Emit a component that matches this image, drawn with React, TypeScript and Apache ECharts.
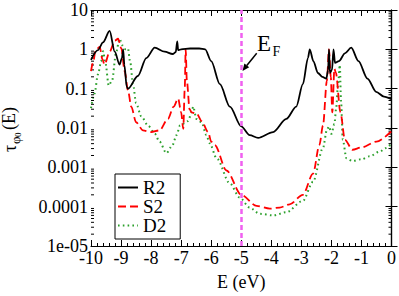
import React, { useEffect, useRef } from "react";
import * as echarts from "echarts";

const r2X = [-10, -9.77, -9.6, -9.38, -9.21, -9.05, -8.97, -8.93, -8.89, -8.81, -8.77, -8.44, -8.16, -7.88, -7.55, -7.28, -7.18, -7.13, -7.1, -7.0, -6.7, -6.4, -6.2, -6.0, -5.71, -5.38, -5.0, -4.72, -4.44, -3.94, -3.5, -3.17, -2.95, -2.78, -2.72, -2.6, -2.45, -2.3, -2.17, -2.11, -2.08, -2.05, -1.98, -1.93, -1.88, -1.75, -1.55, -1.34, -1.1, -0.8, -0.51, -0.25, 0];
const r2Y = [0.54, 0.95, 1.51, 2.95, 0.87, 0.41, 0.6, 1.0, 0.4, 0.11, 0.1, 0.21, 0.6, 1.1, 0.87, 0.76, 0.85, 1.58, 0.95, 1.0, 1.05, 1.05, 1.0, 0.5, 0.13, 0.035, 0.011, 0.0066, 0.0056, 0.0079, 0.017, 0.035, 0.13, 0.6, 1.0, 0.5, 0.25, 0.2, 0.18, 0.3, 1.0, 0.25, 0.3, 1.0, 0.45, 0.5, 0.79, 1.1, 0.5, 0.18, 0.083, 0.063, 0.054];

const s2X = [-10, -9.92, -9.85, -9.71, -9.62, -9.55, -9.38, -9.21, -9.1, -8.99, -8.88, -8.77, -8.66, -8.5, -8.27, -8.0, -7.72, -7.44, -7.25, -7.1, -7.0, -6.93, -6.88, -6.85, -6.81, -6.72, -6.65, -6.48, -6.32, -6.1, -6.0, -5.88, -5.49, -5.0, -4.49, -4.05, -3.72, -3.39, -2.95, -2.61, -2.4, -2.28, -2.15, -2.08, -2.02, -1.97, -1.9, -1.85, -1.7, -1.55, -1.3, -1.0, -0.5, 0];
const s2Y = [0.28, 0.5, 0.95, 1.15, 0.56, 0.41, 0.87, 1.66, 1.86, 1.05, 0.28, 0.091, 0.035, 0.014, 0.0087, 0.0079, 0.0087, 0.017, 0.035, 0.056, 0.025, 0.0095, 0.1, 1.0, 0.16, 0.03, 0.025, 0.023, 0.015, 0.0079, 0.0045, 0.0037, 0.00083, 0.0002, 0.000105, 0.000089, 0.000095, 0.000115, 0.0002, 0.00069, 0.0037, 0.0115, 0.16, 1.0, 0.2, 0.025, 0.32, 0.25, 0.025, 0.005, 0.0028, 0.0032, 0.0045, 0.0083];

const d2X = [-10, -9.88, -9.77, -9.66, -9.6, -9.52, -9.41, -9.3, -9.16, -9.05, -8.95, -8.85, -8.77, -8.7, -8.6, -8.5, -8.33, -8.1, -7.88, -7.72, -7.49, -7.3, -7.15, -7.04, -6.77, -6.65, -6.6, -6.49, -6.32, -6.16, -6.05, -5.82, -5.38, -5.05, -4.72, -4.39, -3.94, -3.5, -2.95, -2.61, -2.28, -2.15, -2.08, -2.0, -1.9, -1.84, -1.78, -1.72, -1.68, -1.62, -1.5, -1.3, -1.0, -0.73, -0.4, -0.18, 0];
const d2Y = [0.032, 0.076, 0.23, 0.5, 0.9, 0.45, 0.12, 0.16, 0.87, 1.86, 1.26, 1.0, 1.05, 0.5, 0.13, 0.043, 0.02, 0.0115, 0.0072, 0.0045, 0.0023, 0.0035, 0.0066, 0.0115, 0.015, 0.025, 0.035, 0.017, 0.014, 0.0066, 0.0041, 0.0017, 0.00039, 0.00017, 0.000095, 0.000066, 0.00006, 0.000072, 0.00014, 0.00043, 0.0031, 0.0089, 0.011, 0.0071, 0.0126, 0.032, 0.126, 0.4, 0.05, 0.005, 0.0017, 0.00145, 0.0016, 0.0019, 0.0025, 0.0031, 0.0041];

const seriesNames = ["R2", "S2", "D2"];
const yTickLabels = ["1e-05", "0.0001", "0.001", "0.01", "0.1", "1", "10"];
const fermiEnergy = -5;
const xMin = -10;
const xMax = 0;
const yMin = 1e-5;
const yMax = 10;

const FONT = "'Liberation Serif', 'DejaVu Serif', serif";

function zip(xs: number[], ys: number[]) {
  return xs.map((x, i) => [x, ys[i]]);
}

export default function App() {
  const ref = useRef<HTMLDivElement>(null);
  useEffect(() => {
    document.body.style.margin = "0";
    if (!ref.current) return;
    const chart = echarts.init(ref.current, undefined, { renderer: "svg" });

    const minorVals: number[][] = [];
    for (let k = -5; k < 1; k++) {
      for (let m = 2; m <= 9; m++) minorVals.push([xMin, m * Math.pow(10, k)]);
    }

    const axisLine = { show: true, lineStyle: { color: "#000", width: 1.2 } };
    const tickStyle = { color: "#000", width: 1 };

    const tip = [242.5, 71];
    const base = [246.8, 65.5];
    const mid = (t: string, size: number) => ({
      text: t,
      font: `${size}px ${FONT}`,
      fill: "#000",
      textVerticalAlign: "middle",
      verticalAlign: "middle",
    });

    const option: any = {
      animation: false,
      backgroundColor: "#fff",
      grid: { left: 91, right: 7, top: 10, bottom: 41, containLabel: false },
      legend: {
        data: seriesNames,
        orient: "vertical",
        left: 115,
        top: 174,
        backgroundColor: "#fff",
        borderColor: "#000",
        borderWidth: 1,
        borderRadius: 0,
        padding: [4, 14, 4, 2],
        itemGap: 0,
        itemWidth: 20,
        itemHeight: 10,
        itemStyle: { opacity: 0 },
        textStyle: { fontFamily: FONT, fontSize: 19, color: "#000", lineHeight: 19 },
      },
      xAxis: [
        {
          type: "value",
          min: xMin,
          max: xMax,
          interval: 1,
          position: "bottom",
          name: "E (eV)",
          nameLocation: "middle",
          nameGap: 27,
          nameTextStyle: { fontFamily: FONT, fontSize: 18, color: "#000" },
          axisLine,
          axisTick: { show: true, inside: true, length: 6, lineStyle: tickStyle },
          minorTick: { show: true, splitNumber: 5, length: 3, lineStyle: tickStyle },
          splitLine: { show: false },
          minorSplitLine: { show: false },
          axisLabel: { fontFamily: FONT, fontSize: 18, color: "#000", margin: 3 },
        },
        {
          type: "value",
          min: xMin,
          max: xMax,
          interval: 1,
          position: "top",
          axisLine,
          axisTick: { show: true, inside: true, length: 6, lineStyle: tickStyle },
          minorTick: { show: true, splitNumber: 5, length: 3, lineStyle: tickStyle },
          splitLine: { show: false },
          axisLabel: { show: false },
        },
      ],
      yAxis: [
        {
          type: "log",
          logBase: 10,
          min: yMin,
          max: yMax,
          splitNumber: 6,
          position: "left",
          axisLine,
          axisTick: { show: true, inside: true, length: 6, lineStyle: tickStyle },
          splitLine: { show: false },
          axisLabel: {
            fontFamily: FONT,
            fontSize: 18,
            color: "#000",
            margin: 3,
            formatter: (v: number) => {
              const e = Math.round(Math.log10(v));
              return yTickLabels[e + 5] ?? String(v);
            },
          },
        },
        {
          type: "log",
          logBase: 10,
          min: yMin,
          max: yMax,
          splitNumber: 6,
          position: "right",
          axisLine,
          axisTick: { show: true, inside: true, length: 6, lineStyle: tickStyle },
          splitLine: { show: false },
          axisLabel: { show: false },
        },
      ],
      series: [
        {
          name: seriesNames[0],
          type: "line",
          data: zip(r2X, r2Y),
          showSymbol: false,
          smooth: 0.3,
          smoothMonotone: "x",
          lineStyle: { color: "#000", width: 1.8 },
          itemStyle: { color: "#000" },
          z: 3,
          markLine: {
            silent: true,
            symbol: "none",
            label: { show: false },
            lineStyle: { color: "#f060f0", type: [5, 3], width: 2.5 },
            data: [{ xAxis: fermiEnergy }],
          },
        },
        {
          name: seriesNames[1],
          type: "line",
          data: zip(s2X, s2Y),
          showSymbol: false,
          smooth: 0.3,
          smoothMonotone: "x",
          lineStyle: { color: "#ff0000", width: 1.8, type: [8, 4] },
          itemStyle: { color: "#ff0000" },
          z: 2,
        },
        {
          name: seriesNames[2],
          type: "line",
          data: zip(d2X, d2Y),
          showSymbol: false,
          smooth: 0.3,
          smoothMonotone: "x",
          lineStyle: { color: "#2ca02c", width: 2, type: [1.6, 3.2] },
          itemStyle: { color: "#2ca02c" },
          z: 1,
        },
        {
          name: "minor",
          type: "custom",
          silent: true,
          clip: false,
          data: minorVals,
          encode: { x: 0, y: 1 },
          renderItem: (_p: any, api: any) => {
            const v = api.value(1);
            const pl = api.coord([xMin, v]);
            const pr = api.coord([xMax, v]);
            return {
              type: "group",
              children: [
                { type: "line", shape: { x1: pl[0], y1: pl[1], x2: pl[0] + 3, y2: pl[1] }, style: { stroke: "#000", lineWidth: 1 } },
                { type: "line", shape: { x1: pr[0] - 3, y1: pr[1], x2: pr[0], y2: pr[1] }, style: { stroke: "#000", lineWidth: 1 } },
              ],
            };
          },
        },
      ],
      graphic: [
        {
          type: "group",
          x: 10,
          y: 130,
          rotation: Math.PI / 2,
          children: [
            { type: "text", x: -22, y: 0, style: mid("τ", 18) },
            { type: "text", x: -14, y: 5, style: mid("φ", 13) },
            { type: "text", x: -7, y: 8, style: mid("0", 9) },
            { type: "text", x: 0, y: -1, style: mid("(E)", 18) },
          ],
        },
        { type: "text", x: 257, y: 43, style: mid("E", 23) },
        { type: "text", x: 272.5, y: 51.5, style: mid("F", 14) },
        { type: "line", shape: { x1: 256.7, y1: 53.3, x2: base[0], y2: base[1] }, style: { stroke: "#000", lineWidth: 1.5 } },
        { type: "polygon", shape: { points: [tip, [249.2, 67.3], [244.4, 63.6]] }, style: { fill: "#000" } },
      ],
    };
    chart.setOption(option);
    return () => chart.dispose();
  }, []);
  return <div ref={ref} style={{ width: 399, height: 296 }} />;
}
